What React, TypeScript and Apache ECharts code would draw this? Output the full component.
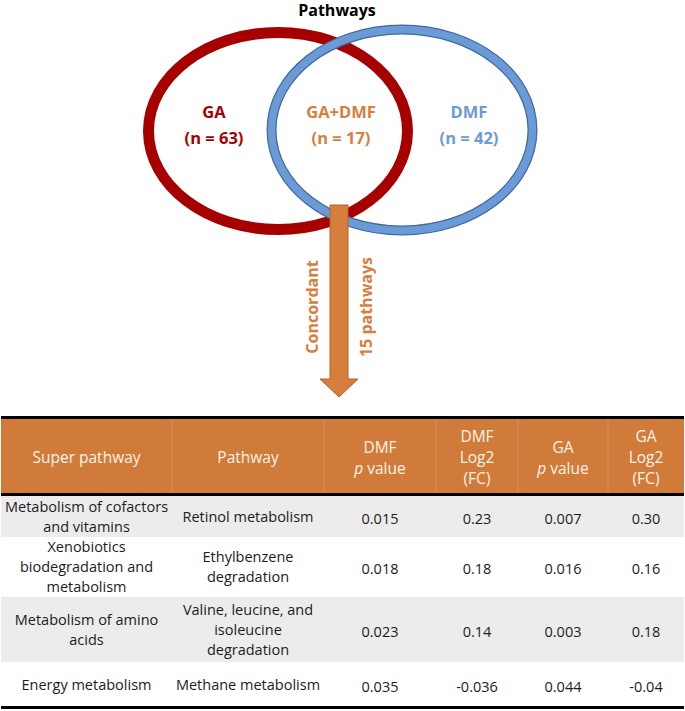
import React, { useEffect, useRef } from "react";
import * as echarts from "echarts";

// ---- data ----
const title = "Pathways";
const vennSets = ["GA", "GA+DMF", "DMF"];
const vennCounts = [63, 17, 42];
const concordantLabel = "Concordant";
const concordantCount = 15;

const headers = [
  "Super pathway",
  "Pathway",
  "DMF\n{i|p} value",
  "DMF\nLog2\n(FC)",
  "GA\n{i|p} value",
  "GA\nLog2\n(FC)",
];
const superPathways = [
  "Metabolism of cofactors\nand vitamins",
  "Xenobiotics\nbiodegradation and\nmetabolism",
  "Metabolism of amino\nacids",
  "Energy metabolism",
];
const pathways = [
  "Retinol metabolism",
  "Ethylbenzene\ndegradation",
  "Valine, leucine, and\nisoleucine\ndegradation",
  "Methane metabolism",
];
const dmfP = ["0.015", "0.018", "0.023", "0.035"];
const dmfLog2 = ["0.23", "0.18", "0.14", "-0.036"];
const gaP = ["0.007", "0.016", "0.003", "0.044"];
const gaLog2 = ["0.30", "0.16", "0.18", "-0.04"];

// ---- styling / layout ----
const RED = "#a60000";
const BLUE = "#6b9bd7";
const BLUE_EDGE = "#40699e";
const ORANGE = "#d67e3d";
const HEADER_BG = "#d17b3a";
const GRAY = "#ececec";
const FONT = "'Open Sans', 'DejaVu Sans', sans-serif";

const colEdges = [1, 172, 324, 436, 518, 608, 684];
const rowBands = [
  [496, 537],
  [538, 595],
  [597, 662],
  [663, 706],
];

export default function App() {
  const ref = useRef<HTMLDivElement>(null);

  useEffect(() => {
    if (!ref.current) return;
    const chart = echarts.init(ref.current, undefined, { renderer: "svg" });

    const els: any[] = [];

    // title
    els.push({
      type: "text",
      x: 337,
      y: 10,
      style: {
        text: title,
        font: `bold 16px ${FONT}`,
        fill: "#000",
        align: "center",
        verticalAlign: "middle",
        lineHeight: 18,
      },
    });

    // venn ellipses
    els.push({
      type: "ellipse",
      shape: { cx: 278, cy: 131, rx: 129.5, ry: 98.5 },
      style: { fill: "none", stroke: RED, lineWidth: 11 },
    });
    els.push({
      type: "ellipse",
      shape: { cx: 402, cy: 130, rx: 130.5, ry: 100.5 },
      style: { fill: "none", stroke: BLUE_EDGE, lineWidth: 10 },
    });
    els.push({
      type: "ellipse",
      shape: { cx: 402, cy: 130, rx: 130.5, ry: 100.5 },
      style: { fill: "none", stroke: BLUE, lineWidth: 7.5 },
    });

    const vennX = [214, 341, 469];
    const vennColors = [RED, ORANGE, BLUE];
    vennSets.forEach((s, i) => {
      els.push({
        type: "text",
        x: vennX[i],
        y: 111,
        style: {
          text: s,
          font: `bold 16.5px ${FONT}`,
          fill: vennColors[i],
          align: "center",
          verticalAlign: "middle",
        },
      });
      els.push({
        type: "text",
        x: vennX[i],
        y: 137,
        style: {
          text: `(n = ${vennCounts[i]})`,
          font: `bold 16.5px ${FONT}`,
          fill: vennColors[i],
          align: "center",
          verticalAlign: "middle",
        },
      });
    });

    // arrow
    els.push({
      type: "polygon",
      shape: {
        points: [
          [330, 205],
          [348, 205],
          [348, 379],
          [358, 379],
          [339, 397],
          [320, 379],
          [330, 379],
        ],
      },
      style: { fill: ORANGE, stroke: "#b0622a", lineWidth: 1 },
    });
    els.push({
      type: "text",
      x: 312,
      y: 307,
      rotation: Math.PI / 2,
      style: {
        text: concordantLabel,
        font: `bold 16px ${FONT}`,
        fill: ORANGE,
        align: "center",
        verticalAlign: "middle",
      },
    });
    els.push({
      type: "text",
      x: 366,
      y: 307,
      rotation: Math.PI / 2,
      style: {
        text: `${concordantCount} pathways`,
        font: `bold 16px ${FONT}`,
        fill: ORANGE,
        align: "center",
        verticalAlign: "middle",
      },
    });

    // table header
    els.push({
      type: "rect",
      shape: { x: 1, y: 419, width: 683, height: 74 },
      style: { fill: HEADER_BG },
    });
    for (let c = 1; c < colEdges.length - 1; c++) {
      els.push({
        type: "line",
        shape: { x1: colEdges[c], y1: 419, x2: colEdges[c], y2: 493 },
        style: { stroke: "#d98f58", lineWidth: 1 },
      });
    }
    headers.forEach((h, c) => {
      els.push({
        type: "text",
        x: (colEdges[c] + colEdges[c + 1]) / 2,
        y: 457,
        style: {
          text: h,
          font: `15.5px ${FONT}`,
          fill: "#fdf3e8",
          align: "center",
          verticalAlign: "middle",
          lineHeight: 21,
          rich: {
            i: { fontStyle: "italic", fontSize: 15.5, fontFamily: FONT, fill: "#fdf3e8", lineHeight: 21 },
          },
        },
      });
    });

    // black rules
    const rules = [416, 493, 706];
    rules.forEach((y) => {
      els.push({
        type: "rect",
        shape: { x: 1, y, width: 683, height: 3 },
        style: { fill: "#000" },
      });
    });

    // body rows
    const columns = [superPathways, pathways, dmfP, dmfLog2, gaP, gaLog2];
    rowBands.forEach(([y0, y1], r) => {
      if (r % 2 === 0) {
        els.push({
          type: "rect",
          shape: { x: 1, y: y0, width: 683, height: y1 - y0 },
          style: { fill: GRAY },
        });
      }
      columns.forEach((col, c) => {
        els.push({
          type: "text",
          x: (colEdges[c] + colEdges[c + 1]) / 2,
          y: (y0 + y1) / 2 + (c >= 2 ? 1.5 : 0),
          style: {
            text: col[r],
            font: `14.5px ${FONT}`,
            fill: "#1c1c1c",
            align: "center",
            verticalAlign: "middle",
            lineHeight: 20,
          },
        });
      });
    });

    chart.setOption({
      animation: false,
      graphic: { elements: els },
    });

    return () => chart.dispose();
  }, []);

  return (
    <div
      ref={ref}
      style={{ position: "absolute", left: 0, top: 0, width: 685, height: 711, background: "#fff" }}
    />
  );
}
